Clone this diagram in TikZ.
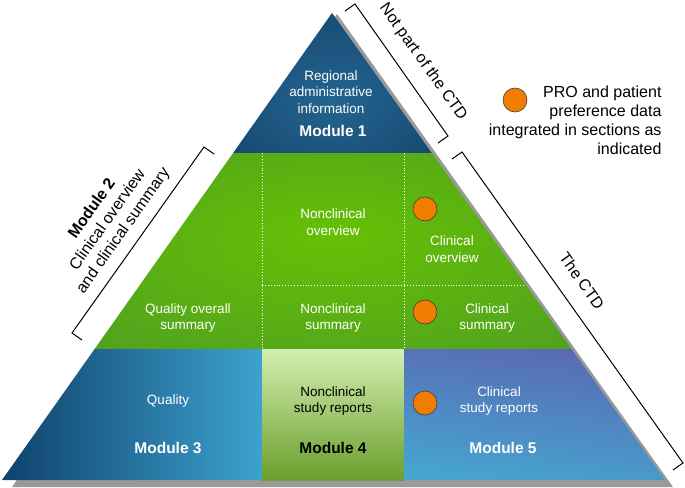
\documentclass[tikz,border=0pt]{standalone}
\usepackage{fontspec}
\setmainfont{Liberation Sans}
\usepackage{tikz}

\definecolor{shadowgray}{HTML}{9A9A9A}
\definecolor{topin}{HTML}{23648F}
\definecolor{topout}{HTML}{0F3C62}
\definecolor{greenin}{HTML}{66C004}
\definecolor{greenout}{HTML}{48962A}
\definecolor{qualleft}{HTML}{0E426D}
\definecolor{qualright}{HTML}{3DA2CE}
\definecolor{nctop}{HTML}{D4EFB2}
\definecolor{ncbottom}{HTML}{6A9E2C}
\definecolor{cltop}{HTML}{5A68B2}
\definecolor{clbottom}{HTML}{46A4D0}
\definecolor{proorange}{HTML}{F07D00}

\pgfdeclareradialshading{topglow}{\pgfpoint{0bp}{-8bp}}{color(0bp)=(topin); color(50bp)=(topout)}
\pgfdeclareradialshading{greenglow}{\pgfpoint{0bp}{4bp}}{color(0bp)=(greenin); color(50bp)=(greenout)}

\begin{document}
\begin{tikzpicture}[x=1pt, y=-1pt,
    boxtext/.style={text=white, align=center, font=\fontsize{13.5}{16.5}\selectfont},
    modlabel/.style={text=white, font=\fontsize{15.5}{18}\selectfont\bfseries},
    sidetext/.style={align=center, font=\fontsize{16}{19}\selectfont},
    prodot/.style={circle, fill=proorange, draw=black!75, line width=0.6pt, minimum size=24pt, inner sep=0pt},
    bracketline/.style={line width=1pt},
    divider/.style={draw=white, dotted, line width=0.9pt}]
    \useasboundingbox (0,0) rectangle (685,487);
    % shadow
    \fill[shadowgray] (337,14) -- (673,487) -- (12,487) -- cycle;
    % module 1
    \shade[shading=topglow] (332,13) -- (431.8,153) -- (233.1,153) -- cycle;
    % module 2
    \shade[shading=greenglow] (233.1,153) -- (431.8,153) -- (571.6,349) -- (94.6,349) -- cycle;
    \draw[divider] (262,153) -- (262,349);
    \draw[divider] (404,153) -- (404,349);
    \draw[divider] (262,285) -- (525.9,285);
    % modules 3, 4 and 5
    \shade[left color=qualleft, right color=qualright] (94.6,349) -- (262,349) -- (262,480) -- (2,480) -- cycle;
    \shade[top color=nctop, bottom color=ncbottom] (262,349) rectangle (404,480);
    \shade[top color=cltop, bottom color=clbottom, shading angle=-8] (404,349) -- (571.6,349) -- (665,480) -- (404,480) -- cycle;

    \node[boxtext] (regional) at (331,92) {Regional\\administrative\\information};
    \node[modlabel] (mod1) at (333,131) {Module 1};
    \node[boxtext] (ncov) at (333,222) {Nonclinical\\overview};
    \node[boxtext] (clov) at (452,249) {Clinical\\overview};
    \node[boxtext] (qos) at (188,318) {Quality overall\\summary};
    \node[boxtext] (ncsum) at (333,318) {Nonclinical\\summary};
    \node[boxtext] (clsum) at (487,318) {Clinical\\summary};
    \node[boxtext] (quality) at (168,401) {Quality};
    \node[boxtext, text=black] (ncsr) at (333,401) {Nonclinical\\study reports};
    \node[boxtext] (clsr) at (499,401) {Clinical\\study reports};
    \node[modlabel] (mod3) at (168,448) {Module 3};
    \node[modlabel, text=black] (mod4) at (333,448) {Module 4};
    \node[modlabel] (mod5) at (503,448) {Module 5};

    % PRO markers
    \node[prodot] (ovdot) at (425,209) {};
    \node[prodot] (sumdot) at (425,312) {};
    \node[prodot] (srdot) at (425,403) {};
    \node[prodot] (keydot) at (515,100) {};
    \node[sidetext, align=right, anchor=east] (keytext) at (665,120)
        {PRO and patient\\preference data\\integrated in sections as\\indicated};

    % brackets
    \draw[bracketline] (345,11) -- (355,4) -- (448,136) -- (438,143);
    \draw[bracketline] (452,159) -- (462,152) -- (683,463) -- (673,470);
    \draw[bracketline] (214,154) -- (204,147) -- (72,333) -- (82,340);
    \node[sidetext, rotate=-54.5] (notctd) at (423,62) {Not part of the CTD};
    \node[sidetext, rotate=-54.5] (ctd) at (582,281) {The CTD};
    \node[sidetext, rotate=54.8] (mod2) at (108,220)
        {\bfseries Module 2\\Clinical overview\\and clinical summary};
\end{tikzpicture}
\end{document}
